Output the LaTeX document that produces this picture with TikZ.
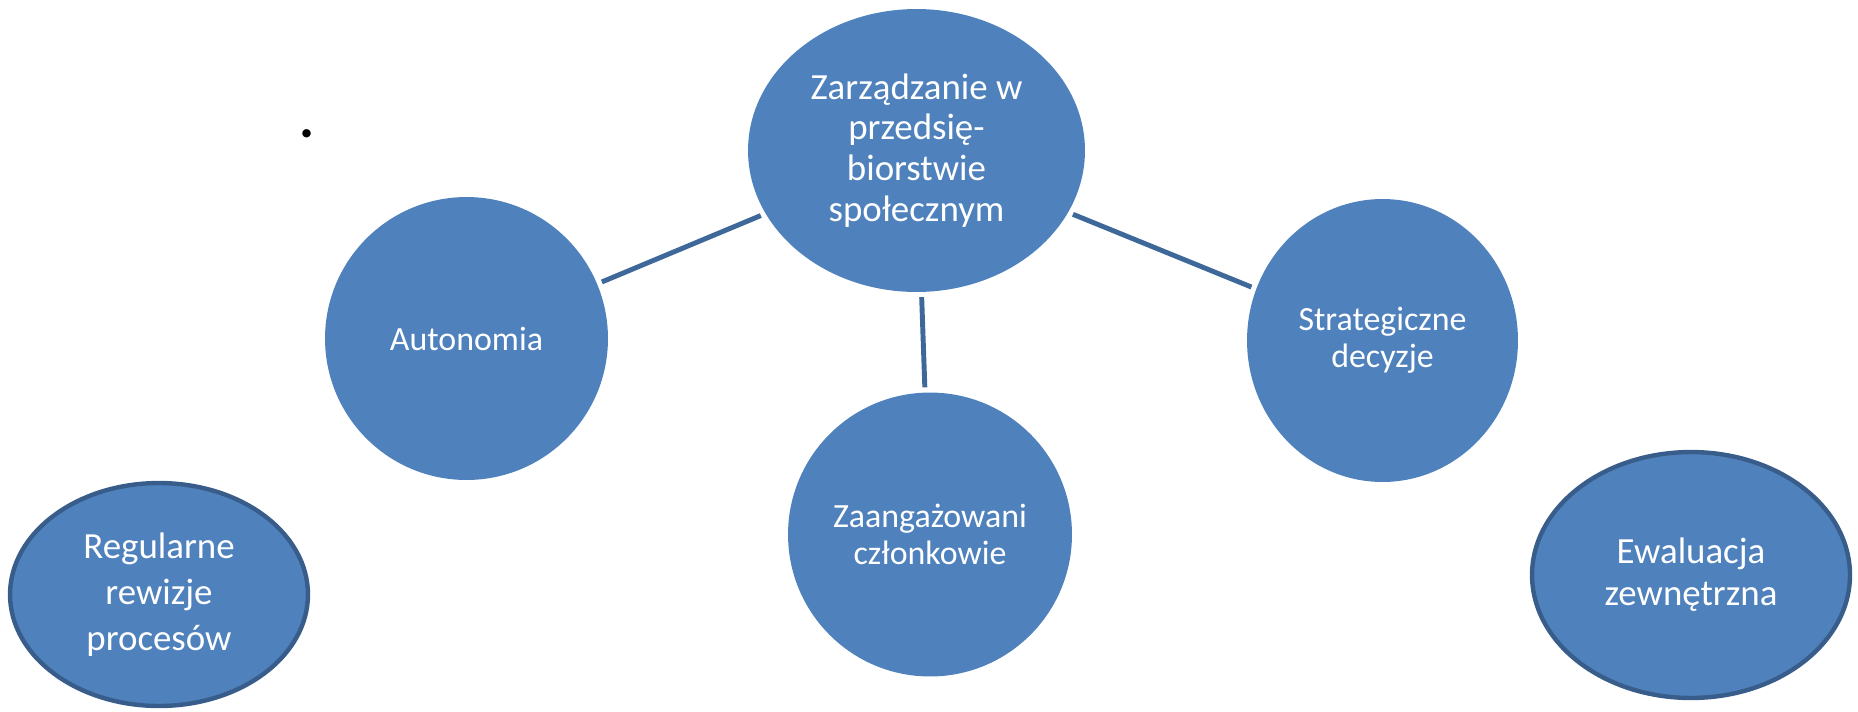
\documentclass[tikz,border=0pt]{standalone}
\usepackage{fontspec}
\setmainfont{Carlito}
\usetikzlibrary{shapes.geometric}
\definecolor{bubble}{HTML}{4F81BD}
\definecolor{linkc}{HTML}{3D6899}
\definecolor{rim}{HTML}{385D8A}
\tikzset{
  bub/.style={ellipse, fill=bubble, text=white, inner sep=0pt, align=center},
  big/.style={font=\fontsize{21}{23.2}\selectfont},
  mid/.style={font=\fontsize{19.3}{21}\selectfont},
  rimmed/.style={draw=rim, line width=2.5pt},
  link/.style={draw=linkc, line width=2.8pt, shorten <=2.8pt, shorten >=2.8pt}
}
\begin{document}
\begin{tikzpicture}[x=0.02cm, y=-0.02cm]
\useasboundingbox (0,0) rectangle (1858,711);
\node[bub, big, minimum width=6.74cm, minimum height=5.66cm] (zarz) at (916.5,150.5)
  {Zarządzanie w\\przedsię-\\biorstwie\\społecznym};
\node[bub, mid, minimum width=5.66cm, minimum height=5.66cm] (auto) at (466.5,338.5) {Autonomia};
\node[bub, mid, minimum width=5.68cm, minimum height=5.68cm] (zaan) at (930,534.5)
  {Zaangażowani\\członkowie};
\node[bub, mid, minimum width=5.42cm, minimum height=5.66cm] (strat) at (1382.5,340.5)
  {Strategiczne\\decyzje};
\node[bub, rimmed, font=\fontsize{21}{26}\selectfont, minimum width=5.96cm, minimum height=4.46cm] (regu) at (159,594.5)
  {Regularne\\rewizje\\procesów};
\node[bub, rimmed, font=\fontsize{21}{23.8}\selectfont, minimum width=6.36cm, minimum height=4.92cm] (ewal) at (1691,575)
  {Ewaluacja\\zewnętrzna};
\node[inner sep=0pt, font=\fontsize{32}{34}\bfseries] (dot) at (306.7,133.3) {.};
\draw[link] (auto) -- (zarz);
\draw[link] (zarz) -- (zaan);
\draw[link] (zarz) -- (strat);
\end{tikzpicture}
\end{document}
